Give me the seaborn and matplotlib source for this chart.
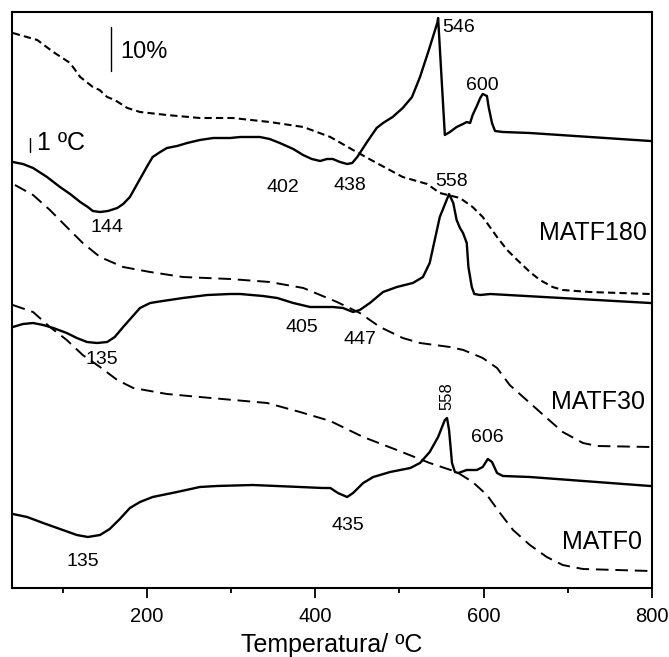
import numpy as np
import pandas as pd
import matplotlib
matplotlib.use("Agg")
import matplotlib.pyplot as plt
import seaborn as sns

# ---- data (temperature in degC, signal in arbitrary stacked units) ----
tg180_T = [41, 70, 89, 109, 121, 136, 144, 153, 162, 177, 192, 224, 263, 302, 346, 386, 418, 445,
           473, 504, 533, 548, 572, 587, 599, 616, 628, 640, 655, 667, 682, 694, 726, 798, 800]
tg180_y = [555, 548, 536, 525, 511, 501, 498, 491, 488, 480, 476, 473, 470, 470, 466, 461, 451, 438,
           425, 411, 404, 395, 390, 381, 371, 351, 338, 328, 316, 308, 301, 298, 296, 294, 294]

dta180_T = [41, 53, 65, 81.6, 97, 109, 121, 130, 136, 144.5, 154, 165, 172, 180, 186, 192, 200, 207,
            216, 224, 236, 248, 263, 279, 299, 311, 334.5, 346, 358, 374, 385.6, 396, 406, 414, 421,
            429.5, 438, 444, 450, 461.6, 473, 480.6, 492, 504, 515, 524.5, 535, 545, 546,
            554, 560, 568, 575.6, 580, 584, 587, 592, 596, 599, 604, 606, 610, 613.6, 623, 655, 798, 800]
dta180_y = [426, 424, 420, 411, 401, 394, 386, 381, 377, 376, 377, 380, 384, 391, 400, 409, 421, 431,
            436, 440, 442, 445, 448, 450, 450, 451, 451, 449, 445, 439, 433, 429, 427, 429, 429,
            426, 424, 425, 431, 446, 460, 465, 471, 480, 491, 511, 538, 565, 570,
            453, 456, 461, 464, 466, 465, 473, 482, 490, 494, 492, 481, 465, 457, 456, 455, 447, 447]

tg30_T = [43.5, 65, 85, 105, 124, 144.5, 172, 204, 243, 299, 346, 386, 426, 453, 477, 504, 524.5,
          560, 576, 599, 616, 631, 655, 675, 694, 718, 735, 798, 800]
tg30_y = [403, 393, 378, 361, 345, 331, 321, 316, 311, 309, 306, 300, 286, 275, 261, 250, 245,
          241, 238, 230, 220, 203, 185, 170, 156, 145, 142, 141, 141]

dta30_T = [41, 53, 65, 77, 89, 105, 117, 129, 141, 153, 162, 172, 182.5, 192, 204, 219, 243, 272,
           299, 311, 338, 355, 374, 394, 409, 421, 433, 445, 453, 465, 480.6, 497, 516, 528, 536,
           542, 548, 559, 564, 568, 572, 575.6, 580, 582, 586, 589, 596, 608, 798, 800]
dta30_y = [261, 264, 265, 263, 260, 255, 250, 246, 245, 246, 251, 261, 271, 280, 285, 287, 290, 293,
           294, 294, 292, 290, 285, 281, 281, 281, 280, 276, 278, 285, 296, 301, 305, 311, 325,
           348, 371, 394, 385, 368, 360, 355, 345, 321, 301, 294, 293, 294, 285, 285]

tg0_T = [41, 65, 85, 105, 124, 144.5, 165, 184, 224, 263, 343, 382, 418, 457, 497, 536, 568, 587,
         604, 619.5, 635, 655, 675, 694, 718, 798, 800]
tg0_y = [283, 276, 261, 248, 233, 221, 208, 200, 194, 191, 185, 176, 167, 151, 138, 125, 116, 106,
         93, 75, 58, 43, 31, 23, 19, 17, 17]

dta0_T = [41, 58, 77, 97, 117, 130, 144.5, 156, 168, 180, 192, 207, 236, 263, 283, 326, 382, 409,
          418, 427, 438, 445, 457, 469, 489, 513, 524.5, 536, 546, 554, 556.6, 559, 562.5, 566,
          570, 580, 592, 599, 605, 610, 616, 623, 655, 798, 800]
dta0_y = [74, 71, 65, 59, 53, 51, 53, 59, 69, 80, 86, 91, 96, 101, 102, 103, 101, 100,
          100, 95, 91, 95, 105, 111, 116, 120, 125, 136, 151, 168, 170, 158, 125, 116,
          115, 118, 118, 121, 129, 126, 115, 112, 111, 102, 102]

peak_labels = ["546", "600", "144", "402", "438", "558", "405", "447", "135", "606", "435", "135"]
peak_T = [550.6, 598, 153, 362, 441, 562.5, 384, 453, 147, 604, 439, 124]
peak_y = [560, 503, 360, 400, 403, 406, 260, 248, 228, 151, 63, 26]

sample_names = ["MATF180", "MATF30", "MATF0"]
sample_T = [794, 792, 788]
sample_y = [355, 186, 46]

x_major = [200, 400, 600, 800]
x_minor = [100, 300, 500, 700]

# ---- figure ----
sns.set_theme(style="ticks")
plt.rcParams["font.family"] = ["Liberation Sans", "DejaVu Sans"]

fig = plt.figure(figsize=(6.69, 6.57), dpi=100)
ax = fig.add_axes([12 / 669, (657 - 588) / 657, 640 / 669, 576 / 657])

curves = [
    (tg180_T, tg180_y, (0, (3.5, 2.0)), 1.5),
    (dta180_T, dta180_y, "-", 1.7),
    (tg30_T, tg30_y, (0, (6.5, 3.5)), 1.4),
    (dta30_T, dta30_y, "-", 1.7),
    (tg0_T, tg0_y, (0, (6.5, 3.5)), 1.4),
    (dta0_T, dta0_y, "-", 1.7),
]
for xs, ys, ls, lw in curves:
    df = pd.DataFrame({"T": xs, "s": ys})
    sns.lineplot(data=df, x="T", y="s", ax=ax, color="black", lw=lw,
                 linestyle=ls, sort=False, estimator=None)

ax.set_xlim(40, 800)
ax.set_ylim(0, 576)

for lab, tx, ty in zip(peak_labels, peak_T, peak_y):
    ha = "left" if lab == "546" and tx > 540 else "center"
    ax.text(tx, ty, lab, ha=ha, va="center", fontsize=14, color="black")

# rotated 558 on bottom curve
ax.text(556.6, 192, "558", rotation=90, ha="center", va="center", fontsize=12, color="black")

for name, tx, ty in zip(sample_names, sample_T, sample_y):
    ax.text(tx, ty, name, ha="right", va="center", fontsize=18, color="black")

# scale bars
ax.plot([157.6, 157.6], [517, 561], color="black", lw=1.0)
ax.text(168, 536, "10%", ha="left", va="center", fontsize=17, color="black")
ax.plot([61, 61], [436, 450], color="black", lw=1.0)
ax.text(70, 445, "1 ºC", ha="left", va="center", fontsize=18, color="black")

ax.set_xticks(x_major)
ax.set_xticks(x_minor, minor=True)
ax.set_xticklabels([str(v) for v in x_major], fontsize=14.5, color="black")
ax.set_yticks([])
ax.tick_params(axis="x", which="major", direction="out", length=7, width=1.3, pad=7, color="black")
ax.tick_params(axis="x", which="minor", direction="out", length=3.5, width=1.3, color="black")
ax.set_xlabel("Temperatura/ ºC", fontsize=18, labelpad=5, color="black")
ax.set_ylabel("")
for sp in ax.spines.values():
    sp.set_visible(True)
    sp.set_linewidth(1.5)
    sp.set_color("black")

fig.savefig("out.png", dpi=100)
